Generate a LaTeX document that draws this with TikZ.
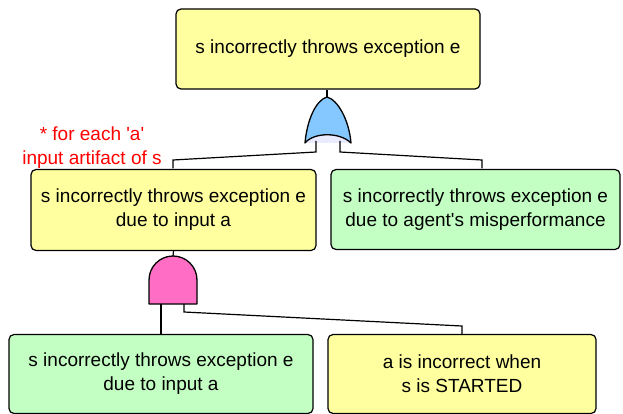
\documentclass[tikz,border=0pt]{standalone}
\usepackage{fontspec}
\setmainfont{Liberation Sans}[Ligatures=TeXOff]
\definecolor{boxyellow}{HTML}{FFFFA0}
\definecolor{boxgreen}{HTML}{C3FFC3}
\definecolor{orblue}{HTML}{85C8FF}
\definecolor{andpink}{HTML}{FF6EC4}
\begin{document}
\begin{tikzpicture}[x=1pt,y=-1pt,
  every node/.style={font=\fontsize{19}{24}\selectfont},
  fbox/.style={draw=black, line width=1.2pt, rounded corners=5pt, align=center, inner sep=0pt},
  ybox/.style={fbox, fill=boxyellow},
  gbox/.style={fbox, fill=boxgreen},
  conn/.style={draw=black, line width=1.2pt},
  gateline/.style={draw=black, line width=1.3pt, line join=round}]
\useasboundingbox (0,0) rectangle (623,414);

\node[ybox, minimum width=304pt, minimum height=80pt] (top) at (328,49) {s incorrectly throws exception e};
\node[ybox, minimum width=285pt, minimum height=81pt] (ml) at (173.5,210) {s incorrectly throws exception e\\due to input a};
\node[gbox, minimum width=289pt, minimum height=80pt] (mr) at (475.5,209.5) {s incorrectly throws exception e\\due to agent's misperformance};
\node[gbox, minimum width=304pt, minimum height=79pt] (bl) at (161,374) {s incorrectly throws exception e\\due to input a};
\node[ybox, minimum width=268pt, minimum height=79pt] (br) at (462,374) {a is incorrect when\\s is STARTED};

\node[text=red, align=center, font=\fontsize{19}{24}\selectfont] (note) at (92,148) {* for each 'a'\\input artifact of s};

% OR gate
\coordinate (orapex) at (327,97);
\coordinate (orL) at (316,152);
\coordinate (orR) at (340,152);
\fill[blue!8] (305,143) .. controls (314,132) and (340,132) .. (351,143) -- cycle;
\path[gateline, fill=orblue] (305,143) .. controls (307,120) and (316,100) .. (orapex)
  .. controls (338,100) and (349,120) .. (351,143)
  .. controls (340,132) and (314,132) .. (305,143) -- cycle;
\draw[conn] (top.south -| orapex) -- (orapex);
\draw[conn] (316,141) -- (orL) -- (173,160) -- (173,168.5);
\draw[conn] (340,141) -- (orR) -- (482,160) -- (482,168.5);

% AND gate
\coordinate (andtop) at (173,256);
\path[gateline, fill=andpink] (149,304) -- (149,280) arc[start angle=180, end angle=360, radius=24] -- (197,304) -- cycle;
\draw[conn] (ml.south) -- (andtop);
\draw[conn] (161,304) -- (bl.north);
\draw[conn] (184,304) -- (184,312) -- (462,326) -- (br.north);
\end{tikzpicture}
\end{document}
